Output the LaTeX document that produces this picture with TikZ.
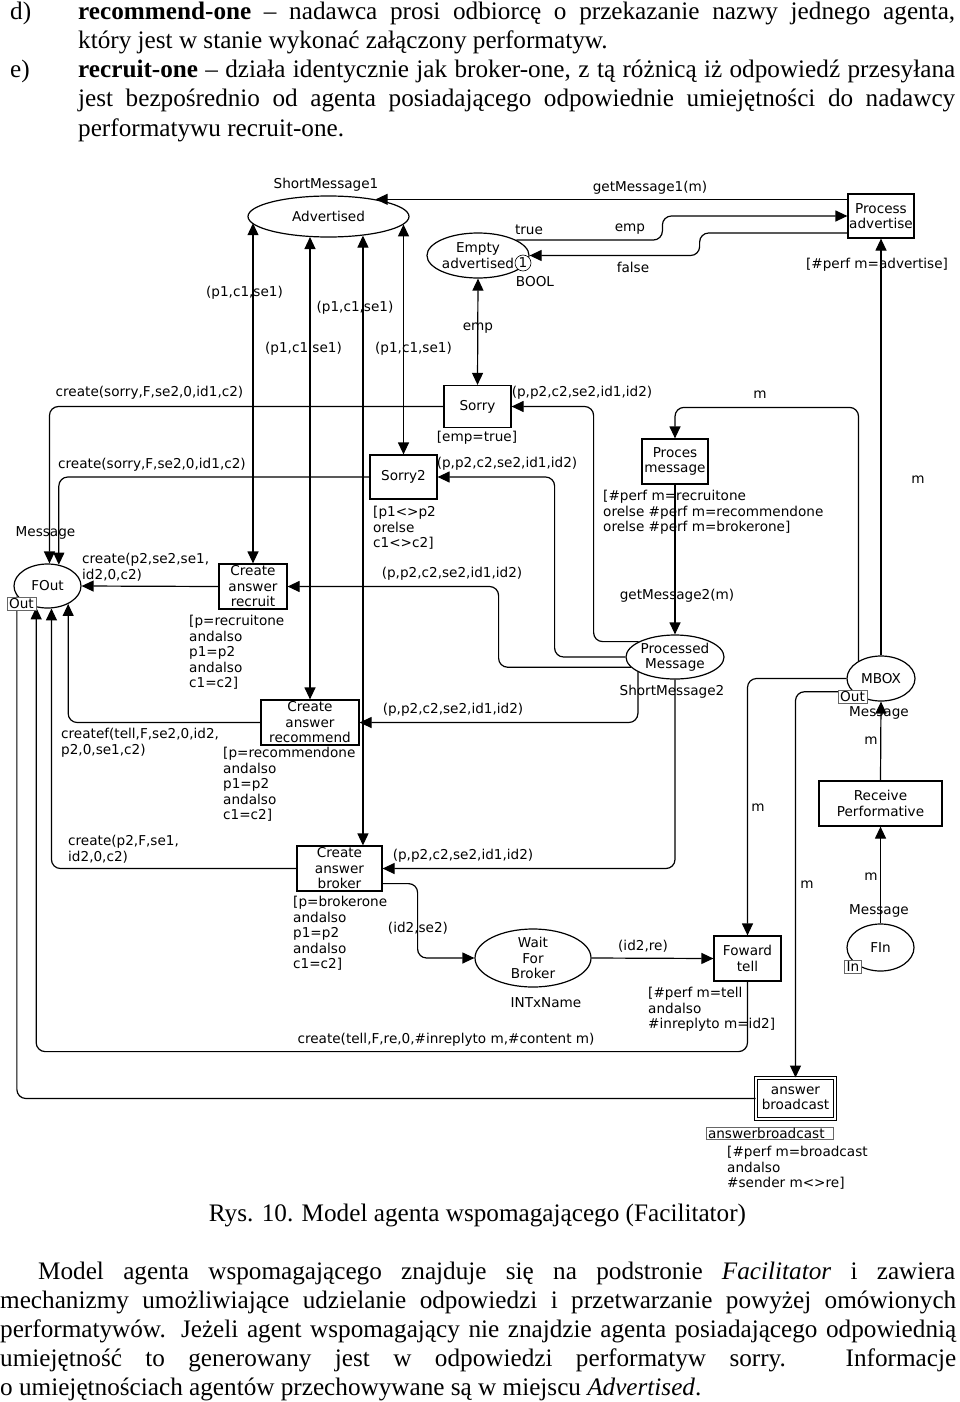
\documentclass[tikz,border=0pt]{standalone}
\usepackage{fontspec}
\setmainfont{Liberation Serif}
\newfontfamily\cpnfont{DejaVu Sans}
\usetikzlibrary{arrows.meta,calc,shapes.geometric}

\begin{document}
\begin{tikzpicture}[x=1pt, y=-1pt,
    cpn/.style={font={\cpnfont\fontsize{13.6}{15.5}\selectfont}},
    place/.style={cpn, draw, ellipse, line width=1.2pt, inner sep=0pt, align=center},
    trans/.style={cpn, draw, line width=1.2pt, inner sep=0pt, align=center},
    lbl/.style={cpn, inner sep=0pt},
    guard/.style={cpn, inner sep=0pt, anchor=north west, align=left},
    port/.style={cpn, draw=black!60, fill=white, line width=0.6pt, inner xsep=2pt, inner ysep=1.5pt},
    arc/.style={line width=1.2pt, rounded corners=9pt, -{Triangle[length=12pt,width=11pt]}},
    arcb/.style={line width=1.2pt, {Triangle[length=12pt,width=11pt]}-{Triangle[length=12pt,width=11pt]}},
    para/.style={inner sep=0pt, anchor=base west, font=\fontsize{25.2}{29}\selectfont}]
\useasboundingbox (0,0) rectangle (960,1402);

% Tekst nad rysunkiem
\node[para] (d) at (10,20) {d)};
\node[para] (d1) at (78,20) {\makebox[877pt][s]{\textbf{recommend-one} -- nadawca prosi odbiorcę o przekazanie nazwy jednego agenta,}};
\node[para] (d2) at (78,49) {który jest w stanie wykonać załączony performatyw.};
\node[para] (e) at (10,78) {e)};
\node[para] (e1) at (78,78) {\makebox[877pt][s]{\textbf{recruit-one} -- działa identycznie jak broker-one, z tą różnicą iż odpowiedź przesyłana}};
\node[para] (e2) at (78,107) {\makebox[877pt][s]{jest bezpośrednio od agenta posiadającego odpowiednie umiejętności do nadawcy}};
\node[para] (e3) at (78,136) {performatywu recruit-one.};

% Miejsca
\node[place, minimum width=161pt, minimum height=41pt] (adv) at (328.5,216.5) {Advertised};
\node[place, minimum width=101pt, minimum height=45pt] (empadv) at (478,255.5) {Empty\\advertised};
\node[place, minimum width=67pt, minimum height=44pt] (fout) at (47.5,586) {FOut};
\node[place, minimum width=98pt, minimum height=44pt] (pm) at (675,657) {Processed\\Message};
\node[place, minimum width=68pt, minimum height=45pt] (mbox) at (881,678.5) {MBOX};
\node[place, minimum width=67pt, minimum height=47pt] (fin) at (880.5,947.5) {FIn};
\node[place, minimum width=116pt, minimum height=58pt, inner ysep=-2pt] (wfb) at (533,958) {Wait\\For\\Broker};

% Przejścia
\node[trans, minimum width=66pt, minimum height=44pt] (procadv) at (881,216) {Process\\advertise};
\node[trans, minimum width=67pt, minimum height=42pt] (sorry) at (477.5,406.5) {Sorry};
\node[trans, minimum width=67pt, minimum height=44pt] (sorry2) at (403.5,477) {Sorry2};
\node[trans, minimum width=68pt, minimum height=45pt] (recruit) at (253,586.5) {Create\\answer\\recruit};
\node[trans, minimum width=98pt, minimum height=45pt] (recommend) at (310,722.5) {Create\\answer\\recommend};
\node[trans, minimum width=85pt, minimum height=45pt] (broker) at (339.5,868.5) {Create\\answer\\broker};
\node[trans, minimum width=66pt, minimum height=45pt] (procmsg) at (675,461.5) {Proces\\message};
\node[trans, minimum width=123pt, minimum height=45pt] (recv) at (880.5,803.5) {Receive\\Performative};
\node[trans, minimum width=67pt, minimum height=45pt] (ftell) at (747.5,958.5) {Foward\\tell};
\node[trans, minimum width=79pt, minimum height=41pt, double, double distance=2.5pt, line width=1pt] (abc) at (795.5,1098.5) {answer\\broadcast};

% Łuki
\draw[arc] (procadv.west |- adv.20) -- (adv.20);
\draw[arcb] (recruit.north |- adv.185) -- (recruit.north);
\draw[arcb] (recommend.north |- adv.227) -- (recommend.north);
\draw[arcb] (adv.331) -- (adv.331 |- broker.north);
\draw[arcb] (sorry2.north |- adv.354) -- (sorry2.north);
\draw[arc] (empadv.22) -| ($(procadv.west)+(-185,0)$) -- (procadv.west);
\draw[arc] ($(procadv.west)+(0,17)$) -| ($(empadv.east)+(170,0)$) -- (empadv.east);
\draw[arcb] (empadv.south) -- (sorry.north);
\draw[arc] (mbox.north) -- (procadv.south);
\draw[arc] (sorry.west) -| (fout.85);
\draw[arc] (sorry2.west) -| (fout.62);
\draw[arc] (recruit.west) -- (fout.east);
\draw[arc] (recommend.west) -| (fout.319);
\draw[arc] (broker.west) -| (fout.280);
\draw[arc] (ftell.south) -- ++(0,70) -| (fout.242);
\draw[arc] (abc.west) -| (fout.198);
\draw[arc] (pm.157) -| ($(sorry.east)+(82,0)$) -- (sorry.east);
\draw[arc] (pm.west) -| ($(sorry2.east)+(117,0)$) -- (sorry2.east);
\draw[arc] (pm.193) -| ($(recruit.east)+(211,0)$) -- (recruit.east);
\draw[arc] (pm.202) |- (recommend.east);
\draw[arc] (pm.south) |- (broker.east);
\draw[arc] (procmsg.south) -- (pm.north);
\draw[arc] (mbox.142) |- ($(procmsg.north)+(0,-31)$) -- (procmsg.north);
\draw[arc] (mbox.west) -| (ftell.north);
\draw[arc] (mbox.205) -| (abc.north);
\draw[arc] (recv.north) -- (mbox.south);
\draw[arc] (fin.north) -- (recv.south);
\draw[arc] ($(broker.south east)+(0,-8)$) -- ++(35,0) |- (wfb.west);
\draw[arc] (wfb.east) -- (ftell.west);

% Znacznik i porty
\node[cpn, draw, circle, fill=white, inner sep=0pt, minimum size=16pt, line width=0.6pt] (tok) at (523,263) {1};
\node[port] (foutport) at (21.5,604) {Out};
\node[port] (mboxport) at (852.5,696.5) {Out};
\node[port] (finport) at (853,966.5) {In};
\node[port, text width=123pt, align=left, inner ysep=0.5pt] (abcport) at (769.5,1133.5) {answerbroadcast};

% Napisy przy łukach i miejscach
\foreach \px/\py/\txt [count=\i] in {
    326/185/ShortMessage1, 650/188/getMessage1(m), 529/230/true, 630/229/emp,
    633/267/false, 535/282/BOOL, 877/265/{[\#perf m=advertise]},
    244.5/293/{(p1,c1,se1)}, 355/308/{(p1,c1,se1)}, 303.5/349/{(p1,c1,se1)}, 413.5/349/{(p1,c1,se1)},
    478/328/emp, 149.5/393/{create(sorry,F,se2,0,id1,c2)}, 152/465/{create(sorry,F,se2,0,id1,c2)},
    582/393/{(p,p2,c2,se2,id1,id2)}, 507/464/{(p,p2,c2,se2,id1,id2)}, 452/574/{(p,p2,c2,se2,id1,id2)},
    453/710/{(p,p2,c2,se2,id1,id2)}, 463/856/{(p,p2,c2,se2,id1,id2)},
    760/395/m, 918/480/m, 477/438/{[emp=true]}, 45.5/533/Message,
    677/596/getMessage2(m), 672/692/ShortMessage2, 879/713/Message,
    871/741/m, 758/808/m, 807/885/m, 871/877/m, 879/911/Message,
    418/928/{(id2,se2)}, 643/946/{(id2,re)}, 546/1003/INTxName,
    446/1040/{create(tell,F,re,0,\#inreplyto m,\#content m)}
}{
    \node[lbl] (ins\i) at (\px,\py) {\txt};
}

% Dozory i napisy wielowierszowe
\node[guard] (gsorry2) at (373,506) {[p1<>p2\\orelse\\c1<>c2]};
\node[guard] (grecruit) at (189,615) {[p=recruitone\\andalso\\p1=p2\\andalso\\c1=c2]};
\node[guard] (gprocmsg) at (603,490) {[\#perf m=recruitone\\orelse \#perf m=recommendone\\orelse \#perf m=brokerone]};
\node[guard] (grecommend) at (223,747) {[p=recommendone\\andalso\\p1=p2\\andalso\\c1=c2]};
\node[guard] (gbroker) at (293,896) {[p=brokerone\\andalso\\p1=p2\\andalso\\c1=c2]};
\node[guard] (gftell) at (648,987) {[\#perf m=tell\\andalso\\\#inreplyto m=id2]};
\node[guard] (gabc) at (727,1146) {[\#perf m=broadcast\\andalso\\\#sender m<>re]};
\node[guard] (crecruit) at (82,553) {create(p2,se2,se1,\\id2,0,c2)};
\node[guard] (crecommend) at (61,728) {createf(tell,F,se2,0,id2,\\p2,0,se1,c2)};
\node[guard] (cbroker) at (68,835) {create(p2,F,se1,\\id2,0,c2)};

% Podpis i tekst pod rysunkiem
\node[para, anchor=base] (cap) at (477.5,1221) {Rys. 10. Model agenta wspomagającego (Facilitator)};
\node[para] (p1) at (38,1279) {\makebox[917pt][s]{Model agenta wspomagającego znajduje się na podstronie \textit{Facilitator} i zawiera}};
\node[para] (p2) at (0,1308) {\makebox[956pt][s]{mechanizmy umożliwiające udzielanie odpowiedzi i przetwarzanie powyżej omówionych}};
\node[para] (p3) at (0,1337) {\makebox[956pt][s]{performatywów. Jeżeli agent wspomagający nie znajdzie agenta posiadającego odpowiednią}};
\node[para] (p4) at (0,1366) {\makebox[956pt][s]{umiejętność to generowany jest w odpowiedzi performatyw sorry. Informacje}};
\node[para] (p5) at (0,1395) {o umiejętnościach agentów przechowywane są w miejscu \textit{Advertised}.};
\end{tikzpicture}
\end{document}
